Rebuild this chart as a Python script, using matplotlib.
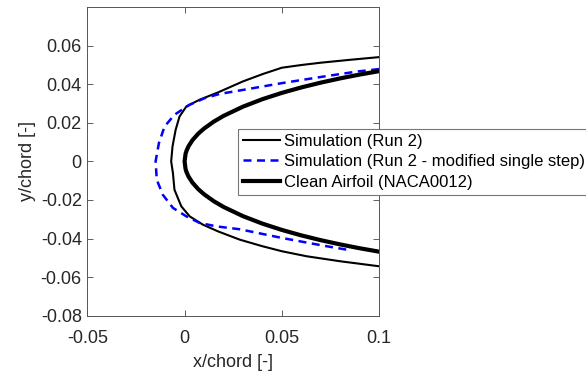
import matplotlib
matplotlib.use("Agg")
import matplotlib.pyplot as plt

plt.rcParams["font.family"] = ["Liberation Sans", "DejaVu Sans"]

# Simulation (Run 2): ice shape contour, upper and lower surfaces
run2_upper_x = [-0.0069, -0.0062, -0.0046, -0.0026, 0.0009, 0.0077, 0.0172, 0.0300,
                0.0404, 0.0500, 0.0600, 0.0700, 0.0850, 0.1000]
run2_upper_y = [0.0000, 0.0078, 0.0164, 0.0233, 0.0285, 0.0320, 0.0358, 0.0415,
                0.0454, 0.0486, 0.0500, 0.0512, 0.0527, 0.0541]
run2_lower_x = [-0.0069, -0.0060, -0.0052, -0.0017, 0.0026, 0.0094, 0.0172, 0.0284,
                0.0400, 0.0500, 0.0627, 0.0800, 0.1000]
run2_lower_y = [0.0000, -0.0060, -0.0147, -0.0233, -0.0285, -0.0328, -0.0363, -0.0406,
                -0.0440, -0.0466, -0.0492, -0.0518, -0.0544]

# Simulation (Run 2 - modified single step)
mod_upper_x = [-0.0149, -0.0132, -0.0103, -0.0052, 0.0026, 0.0103, 0.0180, 0.0284,
               0.0500, 0.0713, 0.0885, 0.1000]
mod_upper_y = [0.0000, 0.0095, 0.0181, 0.0242, 0.0294, 0.0328, 0.0350, 0.0368,
               0.0406, 0.0440, 0.0466, 0.0479]
mod_lower_x = [-0.0149, -0.0143, -0.0112, -0.0060, 0.0009, 0.0077, 0.0163, 0.0284,
               0.0500, 0.0713, 0.0834]
mod_lower_y = [0.0000, -0.0095, -0.0173, -0.0241, -0.0285, -0.0319, -0.0337, -0.0352,
               -0.0397, -0.0437, -0.0458]

# Clean airfoil (NACA0012) half-thickness
clean_x = [0.0, 0.0005, 0.001, 0.002, 0.004, 0.007, 0.01, 0.015, 0.02, 0.03,
           0.04, 0.05, 0.06, 0.07, 0.08, 0.09, 0.1]
clean_y = [0.0, 0.00395, 0.00556, 0.00782, 0.01096, 0.01437, 0.01704, 0.02064,
           0.02360, 0.02840, 0.03228, 0.03555, 0.03838, 0.04086, 0.04307, 0.04505, 0.04683]

x_ticks = [-0.05, 0, 0.05, 0.1]
x_tick_labels = ["-0.05", "0", "0.05", "0.1"]
y_ticks = [-0.08, -0.06, -0.04, -0.02, 0, 0.02, 0.04, 0.06]
y_tick_labels = ["-0.08", "-0.06", "-0.04", "-0.02", "0", "0.02", "0.04", "0.06"]

labels = ["Simulation (Run 2)",
          "Simulation (Run 2 - modified single step)",
          "Clean Airfoil (NACA0012)"]


def closed(ux, uy, lx, ly):
    """Join upper surface (trailing->leading) with lower surface (leading->trailing)."""
    xs = list(reversed(ux)) + list(lx[1:])
    ys = list(reversed(uy)) + list(ly[1:])
    return xs, ys


fig = plt.figure(figsize=(5.86, 3.78), dpi=100)
ax = fig.add_axes([0.149, 0.165, 0.498, 0.816])

rx, ry = closed(run2_upper_x, run2_upper_y, run2_lower_x, run2_lower_y)
mx, my = closed(mod_upper_x, mod_upper_y, mod_lower_x, mod_lower_y)
cx, cy = closed(clean_x, clean_y, clean_x, [-v for v in clean_y])

l1, = ax.plot(rx, ry, color="black", lw=1.5, solid_joinstyle="round")
l2, = ax.plot(mx, my, color="#0000ff", lw=1.8, dashes=(3.2, 2.2))
l3, = ax.plot(cx, cy, color="black", lw=3.0, solid_joinstyle="round")

ax.set_xlim(-0.05, 0.1)
ax.set_ylim(-0.08, 0.08)
ax.set_xticks(x_ticks)
ax.set_xticklabels(x_tick_labels)
ax.set_yticks(y_ticks)
ax.set_yticklabels(y_tick_labels)
ax.tick_params(direction="in", length=4, width=0.6, color="#444444",
               labelsize=13, labelcolor="#262626", top=True, right=True)
ax.tick_params(axis="x", pad=10.5)
ax.tick_params(axis="y", pad=4)
for s in ax.spines.values():
    s.set_color("#555555")
    s.set_linewidth(0.7)

ax.set_xlabel("x/chord [-]", fontsize=13, color="#262626", labelpad=5)
ax.set_ylabel("y/chord [-]", fontsize=13, color="#262626", labelpad=3.5)

leg = fig.legend([l1, l2, l3], labels, loc="upper left",
                 bbox_to_anchor=(238 / 586, 1 - 129 / 378),
                 fontsize=12, frameon=True, fancybox=False,
                 borderpad=0.3, labelspacing=0.32, handlelength=2.2,
                 handletextpad=0.25, borderaxespad=0.0)
leg.get_frame().set_edgecolor("#777777")
leg.get_frame().set_linewidth(0.8)
leg.get_frame().set_alpha(1.0)

fig.savefig("out.png", dpi=100)
